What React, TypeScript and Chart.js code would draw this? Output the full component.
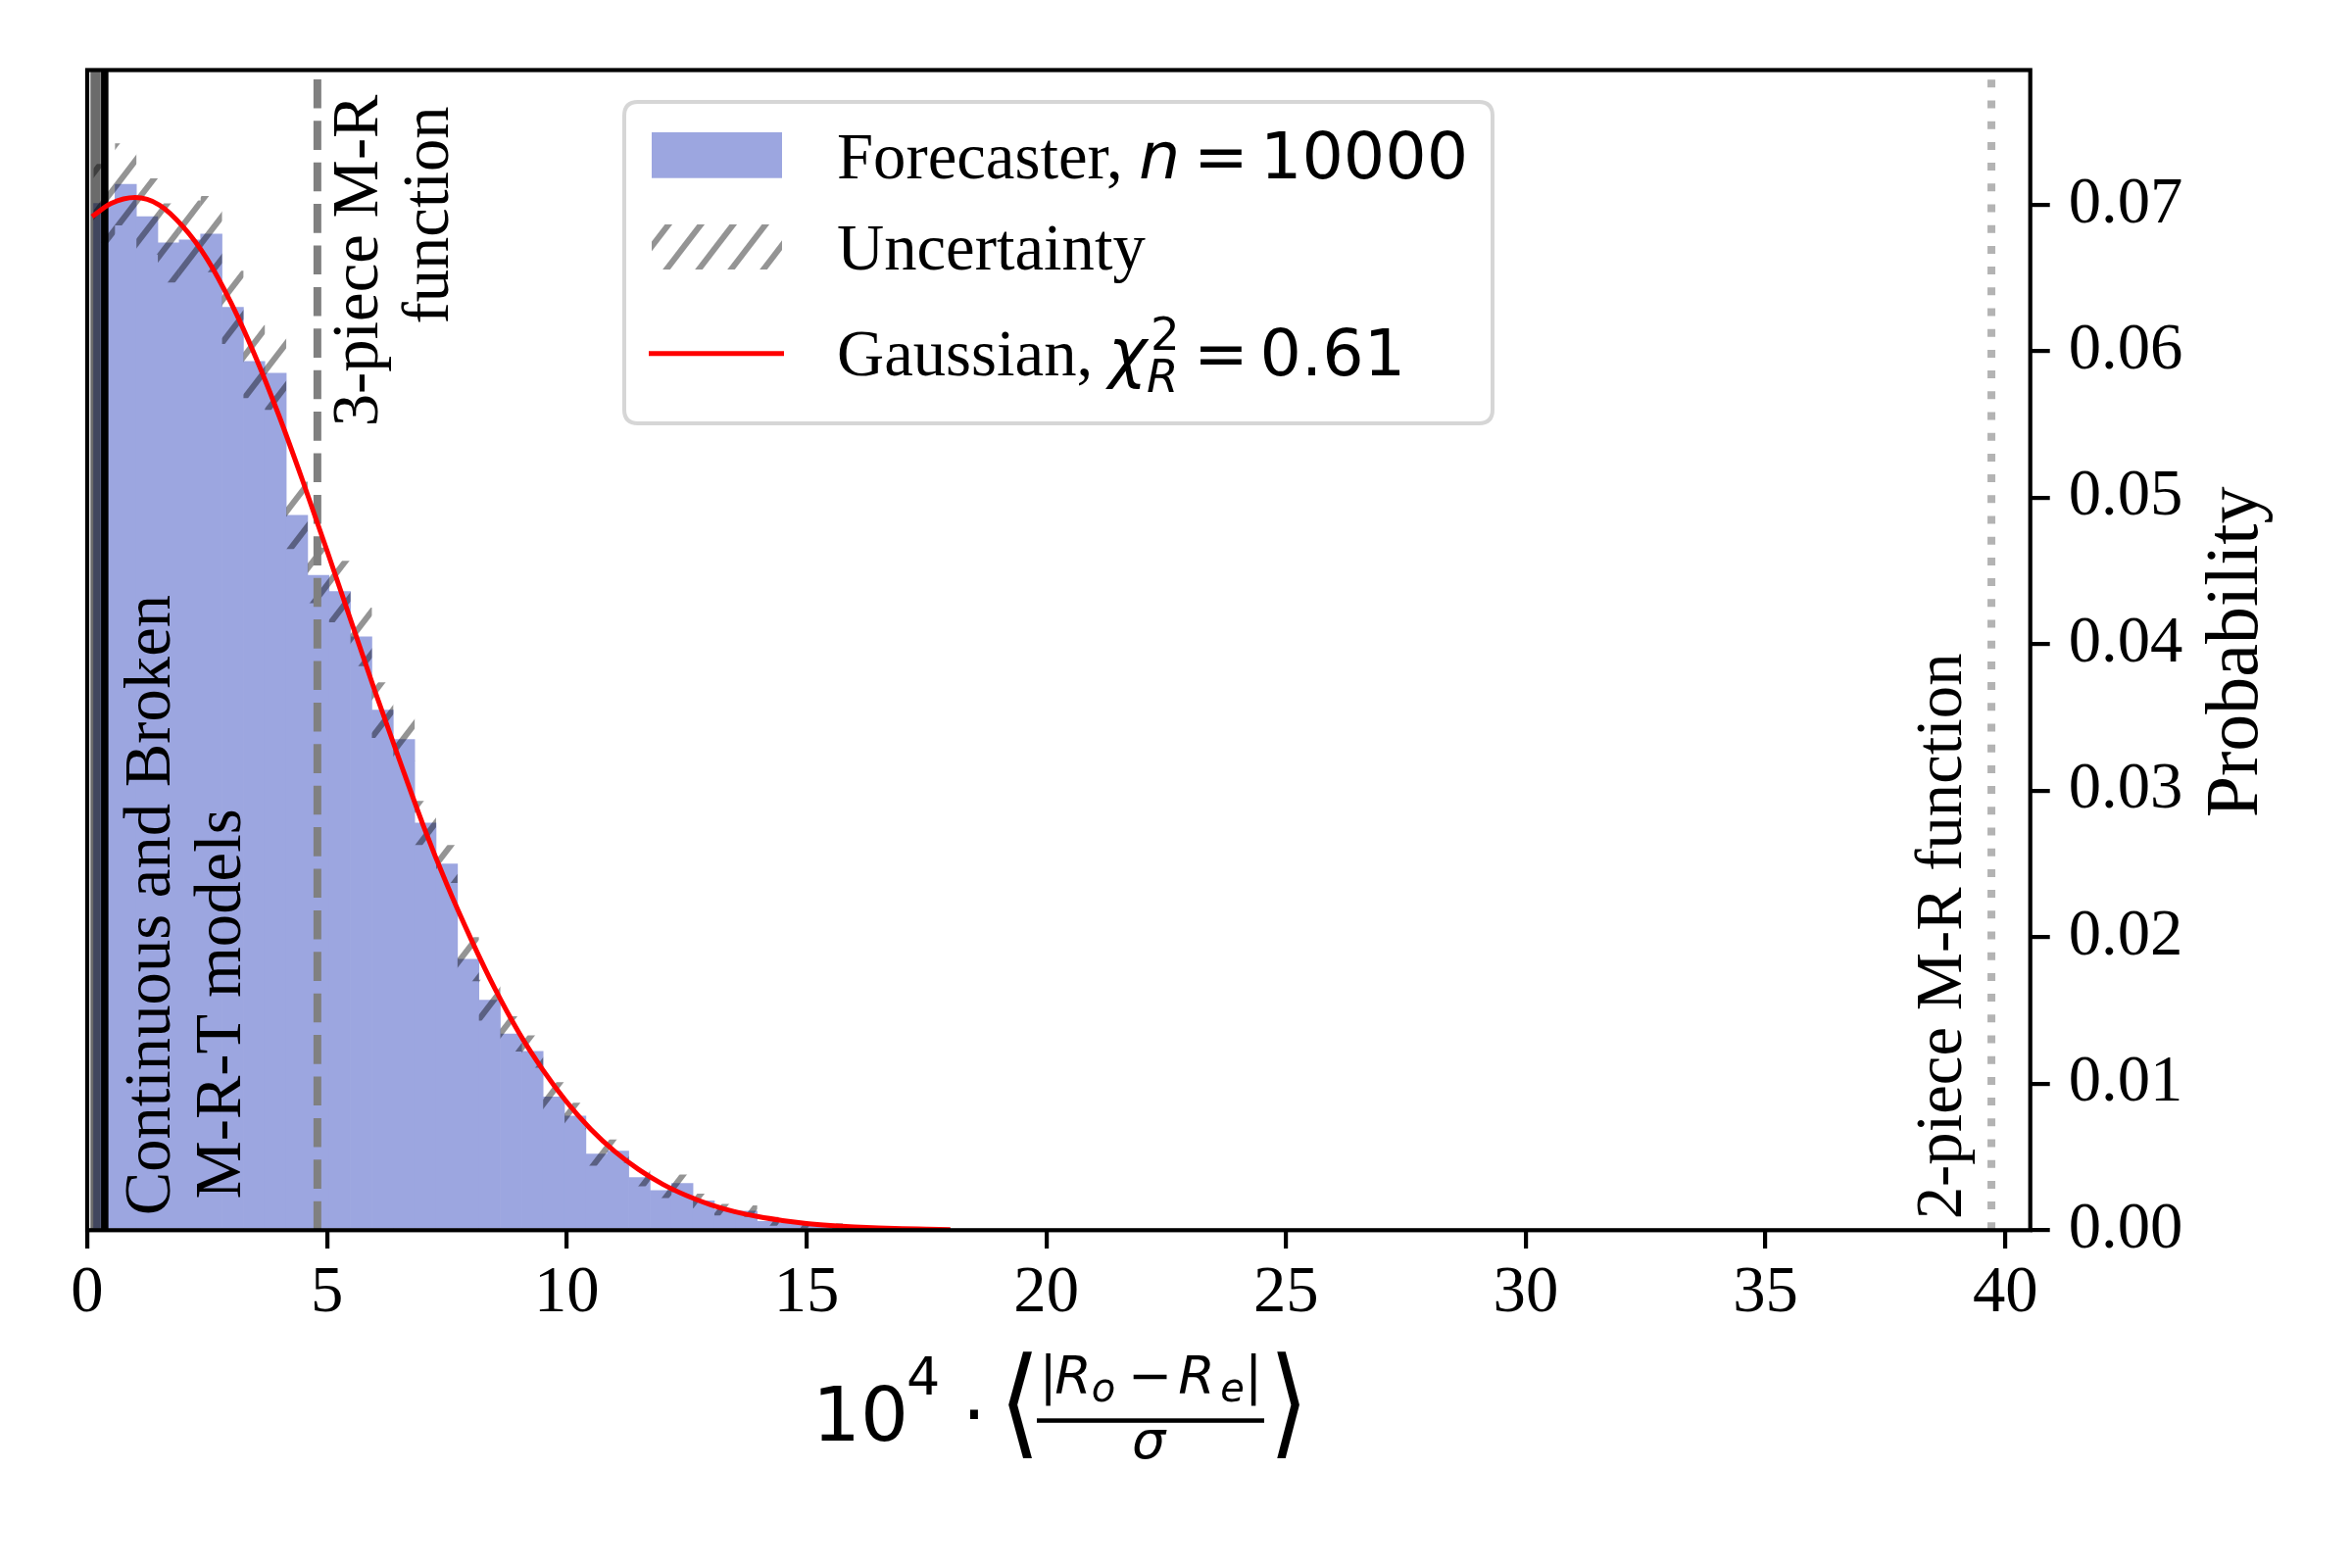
import { useEffect, useRef } from 'react';
import { Chart, registerables } from 'chart.js';

Chart.register(...registerables);

// ---------------- data ----------------
const binEdges = [
  0.133, 0.579, 1.026, 1.472, 1.919, 2.365, 2.811, 3.258, 3.704, 4.151,
  4.597, 5.043, 5.49, 5.936, 6.383, 6.829, 7.275, 7.722, 8.168, 8.615,
  9.061, 9.507, 9.954, 10.4, 10.847, 11.293, 11.739, 12.186, 12.632, 13.079,
  13.525, 13.971, 14.418, 14.864, 15.311, 15.757, 16.203, 16.65, 17.096, 17.543,
  17.989,
];

const histValues = [
  0.0701, 0.0714, 0.0692, 0.0674, 0.0676, 0.068, 0.063, 0.0593, 0.0585, 0.0488,
  0.0447, 0.0436, 0.0405, 0.0355, 0.0335, 0.0278, 0.025, 0.0185, 0.0157, 0.0134,
  0.0122, 0.0091, 0.0078, 0.0052, 0.0054, 0.0036, 0.0027, 0.0032, 0.002, 0.0014,
  0.0013, 0.0006, 0.00047, 0.00033, 0.00027, 0.00012, 0.00008, 0.00005, 0.00003, 0.00002,
];

const histErrors = [
  0.0027, 0.0028, 0.0026, 0.0027, 0.0027, 0.0026, 0.0025, 0.0025, 0.0025, 0.0023,
  0.0019, 0.0021, 0.002, 0.0019, 0.0015, 0.0015, 0.0013, 0.0015, 0.0014, 0.0012,
  0.0011, 0.001, 0.0009, 0.0008, 0.0008, 0.0006, 0.0005, 0.0006, 0.0005, 0.0004,
  0.0004, 0.0003, 0.00025, 0.0002, 0.0002, 0.00012, 0.0001, 0.00007, 0.00005, 0.00004,
];

const gaussX = [
  0.1, 0.5, 1, 1.5, 2, 2.5, 3, 3.5, 4, 4.5, 5, 5.5, 6, 6.5, 7, 7.5, 8, 8.5, 9, 9.5,
  10, 10.5, 11, 11.5, 12, 12.5, 13, 13.5, 14, 14.5, 15, 15.5, 16, 16.5, 17, 17.5, 18,
];
const gaussY = [
  0.0692, 0.0701, 0.0705, 0.07, 0.0685, 0.0663, 0.0633, 0.0597, 0.0556, 0.0511,
  0.0464, 0.0416, 0.0368, 0.0322, 0.0277, 0.0236, 0.0199, 0.0165, 0.0135, 0.01095,
  0.00875, 0.0069, 0.00538, 0.00414, 0.00314, 0.00236, 0.00174, 0.00127, 0.00092, 0.00066,
  0.00046, 0.00032, 0.00022, 0.00015, 0.0001, 0.00007, 0.00004,
];

const xTicks = [0, 5, 10, 15, 20, 25, 30, 35, 40];
const yTicks = [0, 0.01, 0.02, 0.03, 0.04, 0.05, 0.06, 0.07];
const xMin = 0;
const xMax = 40.52;
const yMin = 0;
const yMax = 0.0792;

const grayLineX = 0.175;
const blackLineX = 0.365;
const threePieceX = 4.8;
const twoPieceX = 39.71;

const annotations = [
  { text: 'Continuous and Broken', x: 1.717, y: 0.001 },
  { text: 'M-R-T models', x: 3.198, y: 0.00212 },
  { text: '3-piece M-R', x: 6.05, y: 0.05486 },
  { text: 'function', x: 7.53, y: 0.06187 },
  { text: '2-piece M-R function', x: 39.08, y: 0.00074 },
];

const legendLabels = ['Forecaster, ', 'Uncertainty', 'Gaussian, '];

// ---------------- styles ----------------
const SERIF = "'Liberation Serif', 'Times New Roman', serif";
const SANS = "'DejaVu Sans', 'Noto Sans', sans-serif";
const FS = 66.7;
const HIST_COLOR = '#9ca6e0';
const HATCH_COLOR = 'rgba(0,0,0,0.42)';

function makeHatch(ctx: CanvasRenderingContext2D) {
  const W = 33;
  const H = 43;
  const c = document.createElement('canvas');
  c.width = W;
  c.height = H;
  const g = c.getContext('2d')!;
  g.strokeStyle = HATCH_COLOR;
  g.lineWidth = 6;
  g.lineCap = 'butt';
  for (let n = -1; n <= 3; n++) {
    g.beginPath();
    g.moveTo((n + 1) * W, -H);
    g.lineTo((n - 2) * W, 2 * H);
    g.stroke();
  }
  return ctx.createPattern(c, 'repeat')!;
}

function drawFitted(
  ctx: CanvasRenderingContext2D,
  ch: string,
  font: string,
  x0: number,
  x1: number,
  y0: number,
  y1: number
) {
  ctx.save();
  ctx.font = font;
  ctx.textAlign = 'left';
  ctx.textBaseline = 'alphabetic';
  const m = ctx.measureText(ch);
  const w = m.actualBoundingBoxLeft + m.actualBoundingBoxRight;
  const h = m.actualBoundingBoxAscent + m.actualBoundingBoxDescent;
  if (w > 0 && h > 0) {
    ctx.translate(x0, y0);
    ctx.scale((x1 - x0) / w, (y1 - y0) / h);
    ctx.fillText(ch, m.actualBoundingBoxLeft, m.actualBoundingBoxAscent);
  }
  ctx.restore();
}

function txt(
  ctx: CanvasRenderingContext2D,
  s: string,
  x: number,
  y: number,
  font: string,
  align: CanvasTextAlign = 'left'
) {
  ctx.font = font;
  ctx.textAlign = align;
  ctx.textBaseline = 'alphabetic';
  ctx.fillText(s, x, y);
}

function drawXLabel(ctx: CanvasRenderingContext2D, cx: number) {
  const d = cx - 1080.35;
  const M = 77;
  const NUM = 54;
  const SUB = 40;
  ctx.save();
  ctx.fillStyle = '#000';
  txt(ctx, '10', 829 + d, 1470, `${M}px ${SANS}`);
  txt(ctx, '4', 925 + d, 1423, `${M * 0.7}px ${SANS}`);
  txt(ctx, '\u00B7', 994 + d, 1470, `${M}px ${SANS}`, 'center');
  drawFitted(ctx, '\u27E8', `90px ${SANS}`, 1029 + d, 1053 + d, 1378, 1488);
  txt(ctx, '|', 1069.5 + d, 1421.5, `${NUM}px ${SANS}`, 'center');
  txt(ctx, 'R', 1095 + d, 1421.5, `italic ${NUM}px ${SANS}`, 'center');
  txt(ctx, 'o', 1126 + d, 1430, `italic ${SUB}px ${SANS}`, 'center');
  txt(ctx, '\u2212', 1173.3 + d, 1421.5, `${NUM}px ${SANS}`, 'center');
  txt(ctx, 'R', 1221 + d, 1421.5, `italic ${NUM}px ${SANS}`, 'center');
  txt(ctx, 'e', 1257.5 + d, 1430, `italic ${SUB}px ${SANS}`, 'center');
  txt(ctx, '|', 1279.2 + d, 1421.5, `${NUM}px ${SANS}`, 'center');
  ctx.fillRect(1058 + d, 1447.3, 232, 4.5);
  txt(ctx, '\u03C3', 1172 + d, 1488, `italic ${NUM}px ${SANS}`, 'center');
  drawFitted(ctx, '\u27E9', `90px ${SANS}`, 1303 + d, 1327 + d, 1378, 1488);
  ctx.restore();
}

function roundRect(ctx: CanvasRenderingContext2D, x: number, y: number, w: number, h: number, r: number) {
  ctx.beginPath();
  ctx.moveTo(x + r, y);
  ctx.lineTo(x + w - r, y);
  ctx.quadraticCurveTo(x + w, y, x + w, y + r);
  ctx.lineTo(x + w, y + h - r);
  ctx.quadraticCurveTo(x + w, y + h, x + w - r, y + h);
  ctx.lineTo(x + r, y + h);
  ctx.quadraticCurveTo(x, y + h, x, y + h - r);
  ctx.lineTo(x, y + r);
  ctx.quadraticCurveTo(x, y, x + r, y);
  ctx.closePath();
}

function drawLegend(ctx: CanvasRenderingContext2D, pattern: CanvasPattern) {
  ctx.save();
  roundRect(ctx, 637, 104, 886, 328, 14);
  ctx.fillStyle = '#ffffff';
  ctx.fill();
  ctx.strokeStyle = '#d6d6d6';
  ctx.lineWidth = 4;
  ctx.stroke();

  // handles
  ctx.fillStyle = HIST_COLOR;
  ctx.fillRect(665, 135, 133, 46.7);
  ctx.fillStyle = pattern;
  ctx.fillRect(665, 229, 133, 46);
  ctx.strokeStyle = '#ff0000';
  ctx.lineWidth = 5;
  ctx.beginPath();
  ctx.moveTo(662, 360.7);
  ctx.lineTo(800, 360.7);
  ctx.stroke();

  ctx.fillStyle = '#000';
  // row 1
  txt(ctx, legendLabels[0], 854, 181.7, `${FS}px ${SERIF}`);
  txt(ctx, 'n', 1162, 181.7, `italic ${FS}px ${SANS}`);
  txt(ctx, '=', 1218, 181.7, `${FS}px ${SANS}`);
  txt(ctx, '10000', 1286, 181.7, `${FS}px ${SANS}`);
  // row 2
  txt(ctx, legendLabels[1], 854, 275, `${FS}px ${SERIF}`);
  // row 3
  txt(ctx, legendLabels[2], 854, 382.7, `${FS}px ${SERIF}`);
  txt(ctx, '\u03C7', 1131, 382.7, `italic ${FS}px ${SANS}`);
  txt(ctx, '2', 1174, 357, `${FS * 0.7}px ${SANS}`);
  txt(ctx, 'R', 1170, 400, `italic ${FS * 0.7}px ${SANS}`);
  txt(ctx, '=', 1218, 382.7, `${FS}px ${SANS}`);
  txt(ctx, '0.61', 1285.6, 382.7, `${FS}px ${SANS}`);
  ctx.restore();
}

export default function App() {
  const ref = useRef<HTMLCanvasElement>(null);

  useEffect(() => {
    const canvas = ref.current!;
    const ctx0 = canvas.getContext('2d')!;
    const pattern = makeHatch(ctx0);

    const centers = histValues.map((_, i) => (binEdges[i] + binEdges[i + 1]) / 2);
    const histData = histValues.map((v, i) => ({ x: centers[i], y: v }));
    const bandData = histValues.map((v, i) => ({ x: centers[i], y: [v - histErrors[i], v + histErrors[i]] }));
    const gaussData = gaussX.map((x, i) => ({ x, y: gaussY[i] }));
    const vline = (x: number) => [
      { x, y: yMin },
      { x, y: yMax },
    ];

    const decor = {
      id: 'decor',
      afterDatasetsDraw(chart: any) {
        const { ctx, chartArea: a } = chart;
        ctx.save();
        ctx.strokeStyle = '#000';
        ctx.lineWidth = 4.2;
        ctx.lineJoin = 'miter';
        ctx.strokeRect(a.left, a.top, a.right - a.left, a.bottom - a.top);
        ctx.restore();
      },
      afterDraw(chart: any) {
        const { ctx, chartArea: a, scales } = chart;
        const xs = scales.x;
        const ys = scales.y;
        ctx.save();
        ctx.fillStyle = '#000';
        for (const an of annotations) {
          ctx.save();
          ctx.translate(xs.getPixelForValue(an.x), ys.getPixelForValue(an.y));
          ctx.rotate(-Math.PI / 2);
          txt(ctx, an.text, 0, 0, `${FS}px ${SERIF}`);
          ctx.restore();
        }
        // y axis title
        ctx.save();
        ctx.translate(2303, (a.top + a.bottom) / 2 + 2);
        ctx.rotate(-Math.PI / 2);
        txt(ctx, 'Probability', 0, 0, `76px ${SERIF}`, 'center');
        ctx.restore();
        drawXLabel(ctx, (a.left + a.right) / 2);
        drawLegend(ctx, pattern);
        ctx.restore();
      },
    };

    const chart = new Chart(canvas, {
      type: 'bar',
      data: {
        datasets: [
          {
            type: 'line',
            label: 'Gaussian',
            data: gaussData,
            borderColor: '#ff0000',
            borderWidth: 5,
            pointRadius: 0,
            fill: false,
            cubicInterpolationMode: 'monotone',
            order: 0,
          } as any,
          {
            type: 'line',
            label: 'black',
            data: vline(blackLineX),
            borderColor: '#000000',
            borderWidth: 7.6,
            pointRadius: 0,
            order: 1,
          } as any,
          {
            type: 'line',
            label: 'gray',
            data: vline(grayLineX),
            borderColor: 'rgba(0,0,0,0.58)',
            borderWidth: 10.5,
            pointRadius: 0,
            order: 2,
          } as any,
          {
            type: 'line',
            label: '3-piece',
            data: vline(threePieceX),
            borderColor: '#808080',
            borderWidth: 8,
            borderDash: [29.6, 12.8],
            pointRadius: 0,
            order: 3,
          } as any,
          {
            type: 'line',
            label: '2-piece',
            data: vline(twoPieceX),
            borderColor: '#b3b3b3',
            borderWidth: 8,
            borderDash: [8, 13.2],
            pointRadius: 0,
            order: 4,
          } as any,
          {
            type: 'bar',
            label: 'Uncertainty',
            data: bandData,
            backgroundColor: pattern,
            borderWidth: 0,
            barPercentage: 1,
            categoryPercentage: 1,
            grouped: false,
            inflateAmount: 0,
            order: 5,
          } as any,
          {
            type: 'bar',
            label: 'Forecaster',
            data: histData,
            backgroundColor: HIST_COLOR,
            borderWidth: 0,
            barPercentage: 1,
            categoryPercentage: 1,
            grouped: false,
            order: 6,
          } as any,
        ],
      },
      options: {
        animation: false,
        responsive: false,
        devicePixelRatio: 1,
        events: [],
        layout: { padding: { left: 89, top: 71.5, right: 0, bottom: 0 } },
        plugins: { legend: { display: false }, tooltip: { enabled: false } },
        scales: {
          x: {
            type: 'linear',
            min: xMin,
            max: xMax,
            offset: false,
            afterFit: (s: any) => {
              s.height = 344.7;
            },
            afterBuildTicks: (s: any) => {
              s.ticks = xTicks.map((v) => ({ value: v }));
            },
            grid: {
              display: true,
              offset: false,
              drawOnChartArea: false,
              drawTicks: true,
              tickLength: 18.7,
              lineWidth: 4.2,
              tickWidth: 4.2,
              tickColor: '#000',
              color: '#000',
            },
            border: { display: false },
            ticks: {
              autoSkip: false,
              maxRotation: 0,
              minRotation: 0,
              padding: 6,
              color: '#000',
              font: { family: SERIF, size: FS },
              callback: (v: any) => String(v),
            },
          },
          y: {
            type: 'linear',
            position: 'right',
            min: yMin,
            max: yMax,
            afterFit: (s: any) => {
              s.width = 328.3;
            },
            afterBuildTicks: (s: any) => {
              s.ticks = yTicks.map((v) => ({ value: v }));
            },
            grid: {
              display: true,
              drawOnChartArea: false,
              drawTicks: true,
              tickLength: 20,
              lineWidth: 4.2,
              tickWidth: 4.2,
              tickColor: '#000',
              color: '#000',
            },
            border: { display: false },
            ticks: {
              autoSkip: false,
              padding: 19,
              color: '#000',
              font: { family: SERIF, size: FS },
              callback: (v: any) => Number(v).toFixed(2),
            },
          },
        },
      } as any,
      plugins: [decor],
    });

    return () => chart.destroy();
  }, []);

  return (
    <div style={{ position: 'fixed', left: 0, top: 0, width: 2400, height: 1600, background: '#ffffff' }}>
      <canvas ref={ref} width={2400} height={1600} style={{ width: 2400, height: 1600, display: 'block' }} />
    </div>
  );
}
